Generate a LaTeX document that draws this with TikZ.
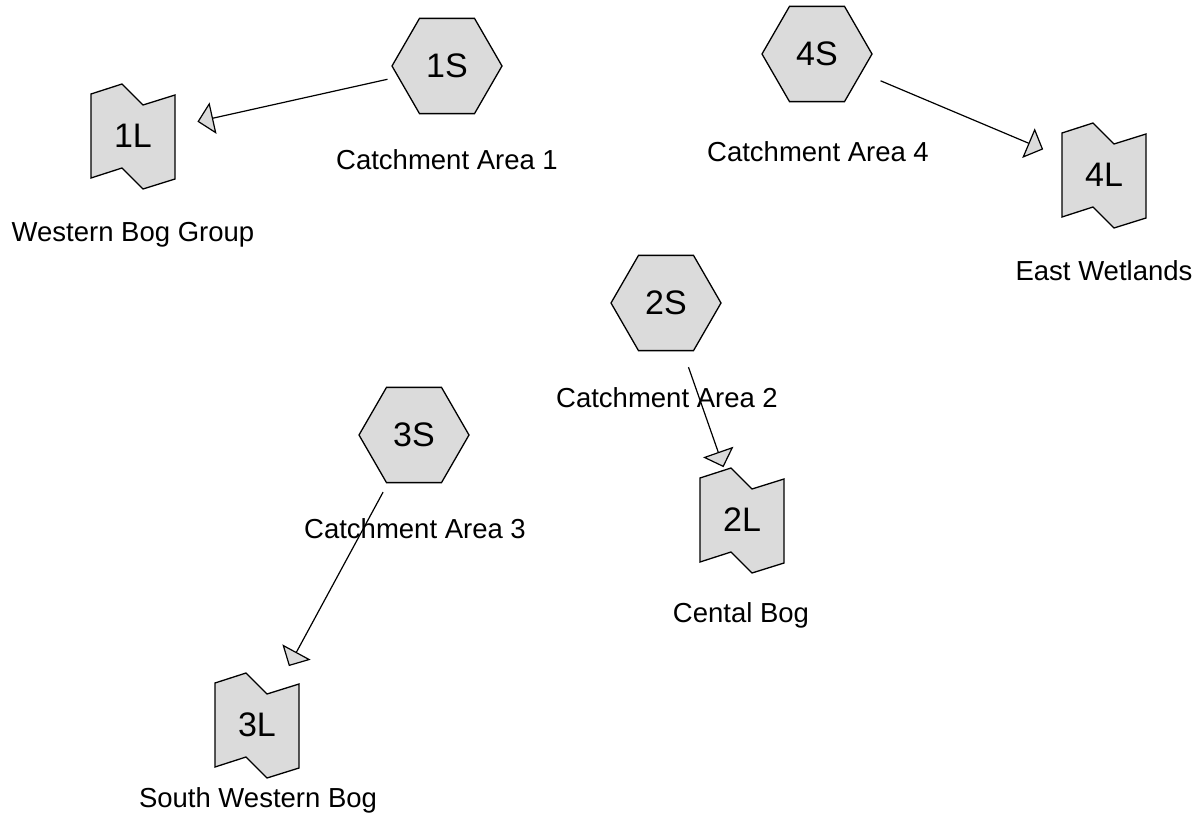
\documentclass[tikz,border=0pt]{standalone}
\usepackage{fontspec}
\setmainfont{Liberation Sans}
\usetikzlibrary{shapes.geometric,arrows.meta}
\tikzset{
  shapefill/.style={fill=gray!28, draw=black, line width=1.3pt, line join=miter},
  hexnode/.style={shapefill, regular polygon, regular polygon sides=6, minimum size=110pt, inner sep=0pt, font=\fontsize{34}{40}\selectfont},
  bogtext/.style={inner sep=0pt, font=\fontsize{34}{40}\selectfont},
  caption/.style={inner sep=0pt, text height=20pt, text depth=0pt, font=\fontsize{27.5}{33}\selectfont},
  flow/.style={draw=black, line width=1.2pt, -{Triangle[length=16pt, width=32pt, fill=gray!28, line width=1.2pt]}},
}
\newcommand\bognode[3]{%
  \begin{scope}[shift={#2}]
    \filldraw[shapefill] (-42,-42) -- (-11,-52) -- (10,-31) -- (42,-41) -- (42,43) -- (10,53) -- (-11,32) -- (-42,42) -- cycle;
  \end{scope}
  \node[bogtext] (#1) at #2 {#3};}
\begin{document}
\begin{tikzpicture}[x=1pt, y=-1pt]
\useasboundingbox (0,0) rectangle (1202,837);
% hexagon nodes
\node[hexnode] (1S) at (447,66) {1S};
\node[hexnode] (4S) at (817,54) {4S};
\node[hexnode] (2S) at (666,303) {2S};
\node[hexnode] (3S) at (414,435) {3S};
% bog nodes
\bognode{1L}{(133,136)}{1L}
\bognode{4L}{(1104,175)}{4L}
\bognode{2L}{(742,520)}{2L}
\bognode{3L}{(257,725)}{3L}
% captions
\node[caption] (c1) at (447,160) {Catchment Area 1};
\node[caption] (c4) at (818,152) {Catchment Area 4};
\node[caption] (c2) at (667,397) {Catchment Area 2};
\node[caption] (c3) at (415,528) {Catchment Area 3};
\node[caption] (l1) at (133,232) {Western Bog Group};
\node[caption] (l4) at (1104,270) {East Wetlands};
\node[caption] (l2) at (741,612) {Cental Bog};
\node[caption] (l3) at (258,797) {South Western Bog};
% connectors
\draw[flow, shorten <=61pt, shorten >=66pt] (1S.center) -- (1L.center);
\draw[flow, shorten <=69pt, shorten >=66pt] (4S.center) -- (4L.center);
\draw[flow, shorten <=68pt, shorten >=56pt] (2S.center) -- (2L.center);
\draw[flow, shorten <=65pt, shorten >=67pt] (3S.center) -- (3L.center);
\end{tikzpicture}
\end{document}
